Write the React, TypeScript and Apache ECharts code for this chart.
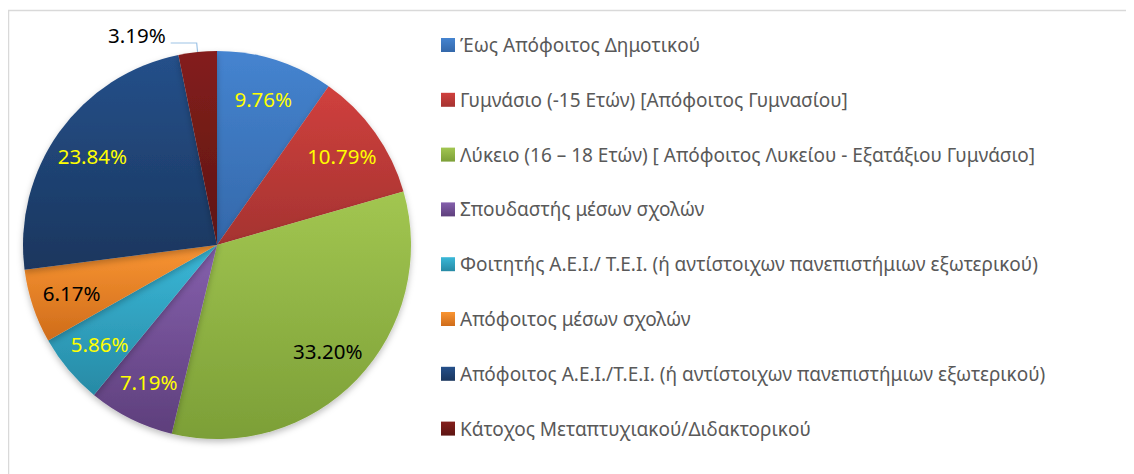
import React, { useEffect, useRef } from "react";
import * as echarts from "echarts";

const categories = [
  "Έως Απόφοιτος Δημοτικού",
  "Γυμνάσιο (-15 Ετών) [Απόφοιτος Γυμνασίου]",
  "Λύκειο (16 – 18 Ετών) [ Απόφοιτος Λυκείου - Εξατάξιου Γυμνάσιο]",
  "Σπουδαστής μέσων σχολών",
  "Φοιτητής Α.Ε.Ι./ Τ.Ε.Ι. (ή αντίστοιχων πανεπιστήμιων εξωτερικού)",
  "Απόφοιτος μέσων σχολών",
  "Απόφοιτος Α.Ε.Ι./Τ.Ε.Ι. (ή αντίστοιχων πανεπιστήμιων εξωτερικού)",
  "Κάτοχος Μεταπτυχιακού/Διδακτορικού",
];
const values = [9.76, 10.79, 33.2, 7.19, 5.86, 6.17, 23.84, 3.19];

const topColors = ["#4584d0", "#d0403d", "#a2c651", "#8560ad", "#3ab8d8", "#f99533", "#25508a", "#841f1c"];
const bottomColors = ["#3468aa", "#a53331", "#7c9f37", "#5e3f7c", "#278aa5", "#cf6c1a", "#1a365e", "#5d1513"];
const labelColors = ["#ffff00", "#ffff00", "#000000", "#ffff00", "#ffff00", "#000000", "#ffff00", "#000000"];

const CX = 209;
const CY = 237;
const R = 194;

export default function App() {
  const ref = useRef<HTMLDivElement>(null);
  useEffect(() => {
    if (!ref.current) return;
    const chart = echarts.init(ref.current, null, { renderer: "svg" });
    const total = values.reduce((a, b) => a + b, 0);
    const data = values.map((v, i) => ({
      name: categories[i],
      value: v,
      itemStyle: {
        color: new echarts.graphic.LinearGradient(0, 0, 0, 1, [
          { offset: 0, color: topColors[i] },
          { offset: 1, color: bottomColors[i] },
        ]),
      },
      label:
        i === values.length - 1
          ? { position: "outside", color: labelColors[i] }
          : { position: "inside", color: labelColors[i] },
      labelLine: { show: i === values.length - 1 },
    }));
    chart.setOption({
      animation: false,
      graphic: [
        {
          type: "rect",
          shape: { x: 0.5, y: 2.5, width: 1300, height: 700 },
          style: { fill: "none", stroke: "#d9d9d9", lineWidth: 1.5 },
          silent: true,
        },
      ],
      legend: {
        orient: "vertical",
        left: 428,
        top: 22,
        padding: 5,
        itemGap: 34.8,
        itemWidth: 14,
        itemHeight: 14,
        icon: "rect",
        selectedMode: false,
        textStyle: { fontFamily: "Noto Sans", fontSize: 19, color: "#595959", lineHeight: 20 },
        data: categories,
      },
      series: [
        {
          type: "pie",
          center: [CX, CY],
          radius: [0, R],
          startAngle: 90,
          clockwise: true,
          avoidLabelOverlap: false,
          itemStyle: { shadowBlur: 6, shadowOffsetY: 3, shadowColor: "rgba(0,0,0,0.25)" },
          label: {
            show: true,
            fontFamily: "Noto Sans",
            fontSize: 20.5,
            formatter: (p: any) => `${Number(p.value).toFixed(2)}%`,
          },
          labelLine: { length: 9, length2: 26, lineStyle: { color: "#9dc3e6", width: 1.2 } },
          labelLayout: (p: any) => {
            const i = p.dataIndex;
            if (i === values.length - 1) return { dy: -8 };
            let before = 0;
            for (let k = 0; k < i; k++) before += values[k];
            const mid = ((before + values[i] / 2) / total) * Math.PI * 2;
            const d = R * 0.79;
            return {
              x: CX + d * Math.sin(mid),
              y: CY - d * Math.cos(mid),
              align: "center",
              verticalAlign: "middle",
            };
          },
          data,
        },
      ],
    });
    return () => chart.dispose();
  }, []);
  return <div ref={ref} style={{ width: 1126, height: 466 }} />;
}
